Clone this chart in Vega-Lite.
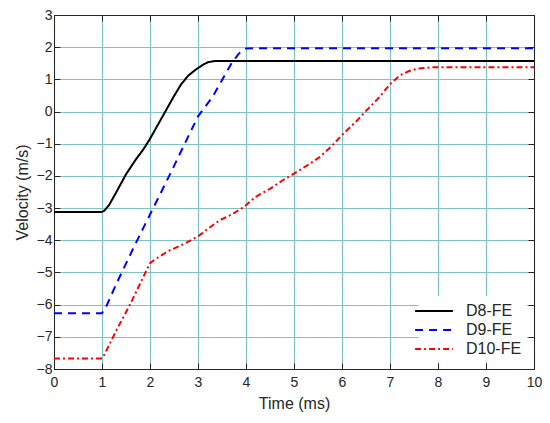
{
  "$schema": "https://vega.github.io/schema/vega-lite/v6.json",
  "width": 480,
  "height": 354,
  "autosize": {"type": "none"},
  "padding": {"left": 54, "top": 15, "right": 16, "bottom": 54},
  "background": "white",
  "config": {
    "font": "Liberation Sans",
    "view": {"stroke": "#262626", "strokeWidth": 1},
    "axis": {
      "labelFont": "Liberation Sans",
      "titleFont": "Liberation Sans",
      "labelFontSize": 14,
      "titleFontSize": 16,
      "titleFontWeight": "normal",
      "labelColor": "#262626",
      "titleColor": "#262626",
      "domainColor": "#262626",
      "tickColor": "#262626",
      "gridColor": "#7fc4c4",
      "gridOpacity": 1,
      "gridWidth": 1.2,
      "labelFlush": false
    }
  },
  "data": {
    "values": [
      {"t": 0, "v": -3.12, "s": "D8-FE"},
      {"t": 1.0, "v": -3.12, "s": "D8-FE"},
      {"t": 1.05, "v": -3.08, "s": "D8-FE"},
      {"t": 1.15, "v": -2.9, "s": "D8-FE"},
      {"t": 1.3, "v": -2.5, "s": "D8-FE"},
      {"t": 1.5, "v": -1.95, "s": "D8-FE"},
      {"t": 1.7, "v": -1.5, "s": "D8-FE"},
      {"t": 1.85, "v": -1.2, "s": "D8-FE"},
      {"t": 2.0, "v": -0.85, "s": "D8-FE"},
      {"t": 2.15, "v": -0.45, "s": "D8-FE"},
      {"t": 2.3, "v": -0.05, "s": "D8-FE"},
      {"t": 2.5, "v": 0.48, "s": "D8-FE"},
      {"t": 2.65, "v": 0.85, "s": "D8-FE"},
      {"t": 2.8, "v": 1.12, "s": "D8-FE"},
      {"t": 2.95, "v": 1.3, "s": "D8-FE"},
      {"t": 3.1, "v": 1.45, "s": "D8-FE"},
      {"t": 3.2, "v": 1.53, "s": "D8-FE"},
      {"t": 3.35, "v": 1.57, "s": "D8-FE"},
      {"t": 10, "v": 1.57, "s": "D8-FE"},
      {"t": 0, "v": -6.27, "s": "D9-FE"},
      {"t": 1.0, "v": -6.27, "s": "D9-FE"},
      {"t": 1.1, "v": -6.02, "s": "D9-FE"},
      {"t": 1.3, "v": -5.35, "s": "D9-FE"},
      {"t": 1.7, "v": -4.1, "s": "D9-FE"},
      {"t": 2.0, "v": -3.2, "s": "D9-FE"},
      {"t": 2.4, "v": -2.0, "s": "D9-FE"},
      {"t": 3.0, "v": -0.15, "s": "D9-FE"},
      {"t": 3.3, "v": 0.45, "s": "D9-FE"},
      {"t": 3.7, "v": 1.5, "s": "D9-FE"},
      {"t": 3.85, "v": 1.8, "s": "D9-FE"},
      {"t": 4.0, "v": 1.96, "s": "D9-FE"},
      {"t": 4.2, "v": 1.97, "s": "D9-FE"},
      {"t": 10, "v": 1.97, "s": "D9-FE"},
      {"t": 0, "v": -7.67, "s": "D10-FE"},
      {"t": 1.0, "v": -7.67, "s": "D10-FE"},
      {"t": 1.05, "v": -7.55, "s": "D10-FE"},
      {"t": 1.3, "v": -6.8, "s": "D10-FE"},
      {"t": 1.6, "v": -5.95, "s": "D10-FE"},
      {"t": 2.0, "v": -4.71, "s": "D10-FE"},
      {"t": 2.15, "v": -4.55, "s": "D10-FE"},
      {"t": 2.4, "v": -4.32, "s": "D10-FE"},
      {"t": 2.7, "v": -4.12, "s": "D10-FE"},
      {"t": 3.0, "v": -3.88, "s": "D10-FE"},
      {"t": 3.2, "v": -3.65, "s": "D10-FE"},
      {"t": 3.45, "v": -3.38, "s": "D10-FE"},
      {"t": 3.7, "v": -3.2, "s": "D10-FE"},
      {"t": 3.97, "v": -2.95, "s": "D10-FE"},
      {"t": 4.2, "v": -2.65, "s": "D10-FE"},
      {"t": 4.5, "v": -2.4, "s": "D10-FE"},
      {"t": 4.75, "v": -2.15, "s": "D10-FE"},
      {"t": 5.0, "v": -1.93, "s": "D10-FE"},
      {"t": 5.3, "v": -1.65, "s": "D10-FE"},
      {"t": 5.55, "v": -1.4, "s": "D10-FE"},
      {"t": 5.8, "v": -1.05, "s": "D10-FE"},
      {"t": 6.0, "v": -0.73, "s": "D10-FE"},
      {"t": 6.3, "v": -0.3, "s": "D10-FE"},
      {"t": 6.5, "v": 0.02, "s": "D10-FE"},
      {"t": 6.75, "v": 0.4, "s": "D10-FE"},
      {"t": 7.0, "v": 0.85, "s": "D10-FE"},
      {"t": 7.2, "v": 1.12, "s": "D10-FE"},
      {"t": 7.4, "v": 1.26, "s": "D10-FE"},
      {"t": 7.6, "v": 1.34, "s": "D10-FE"},
      {"t": 7.9, "v": 1.38, "s": "D10-FE"},
      {"t": 10, "v": 1.38, "s": "D10-FE"}
    ]
  },
  "layer": [
    {
      "mark": {"type": "line", "strokeWidth": 2},
      "encoding": {
        "x": {
          "field": "t",
          "type": "quantitative",
          "title": "Time (ms)",
          "scale": {"domain": [0, 10], "nice": false, "zero": false},
          "axis": {"values": [0, 1, 2, 3, 4, 5, 6, 7, 8, 9, 10], "tickSize": -6, "labelPadding": 12, "titlePadding": 6, "grid": true}
        },
        "y": {
          "field": "v",
          "type": "quantitative",
          "title": "Velocity (m/s)",
          "scale": {"domain": [-8, 3], "nice": false, "zero": false},
          "axis": {"values": [-8, -7, -6, -5, -4, -3, -2, -1, 0, 1, 2, 3], "tickSize": -6, "labelPadding": 8, "titlePadding": 6, "grid": true}
        },
        "color": {
          "field": "s",
          "type": "nominal",
          "title": null,
          "scale": {"domain": ["D8-FE", "D9-FE", "D10-FE"], "range": ["#000000", "#0000ff", "#ff0000"]},
          "legend": {
            "orient": "bottom-right",
            "offset": 7,
            "fillColor": "white",
            "padding": 5,
            "symbolType": "M-2.1,0H2.1",
            "symbolSize": 324,
            "symbolStrokeWidth": 2,
            "labelFontSize": 16,
            "labelColor": "#262626",
            "labelFont": "Liberation Sans",
            "rowPadding": 1,
            "labelOffset": 22
          }
        },
        "strokeDash": {
          "field": "s",
          "type": "nominal",
          "scale": {"domain": ["D8-FE", "D9-FE", "D10-FE"], "range": [[1, 0], [8, 6], [6, 3, 2, 3]]},
          "legend": null
        }
      }
    },
    {
      "mark": {"type": "line", "opacity": 0},
      "encoding": {
        "x": {
          "field": "t",
          "type": "quantitative",
          "axis": {"orient": "top", "labels": false, "title": null, "grid": false, "tickSize": -6, "values": [0, 1, 2, 3, 4, 5, 6, 7, 8, 9, 10]}
        },
        "y": {
          "field": "v",
          "type": "quantitative",
          "axis": {"orient": "right", "labels": false, "title": null, "grid": false, "tickSize": -6, "values": [-8, -7, -6, -5, -4, -3, -2, -1, 0, 1, 2, 3]}
        }
      }
    }
  ],
  "resolve": {"axis": {"x": "independent", "y": "independent"}}
}
